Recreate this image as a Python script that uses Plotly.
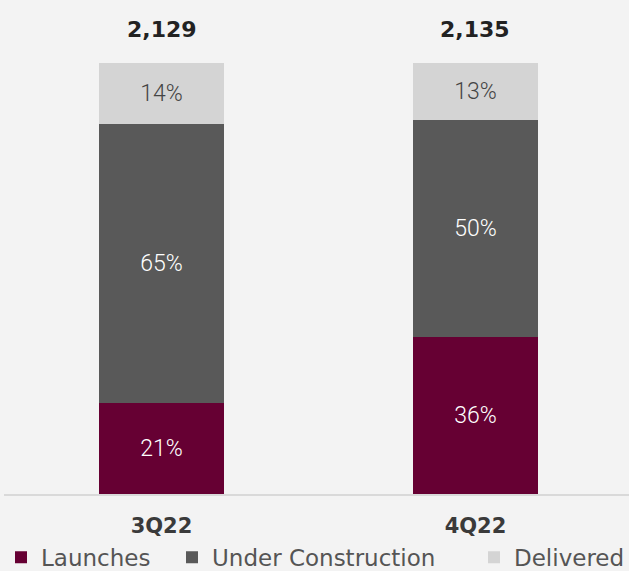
import plotly.graph_objects as go

quarters = ["3Q22", "4Q22"]
totals = ["2,129", "2,135"]
# shares in % (labels show them rounded)
launches = [21.1, 36.4]
under_construction = [64.8, 50.3]
delivered = [14.1, 13.4]

series = [
    ("Launches", launches, "#660033", "white", "legend", -0.0048),
    ("Under Construction", under_construction, "#595959", "white", "legend2", 0.2688),
    ("Delivered", delivered, "#d4d4d4", "#444444", "legend3", 0.752),
]

xpos = list(range(len(quarters)))

fig = go.Figure()
legend_font = {"family": "DejaVu Sans", "size": 23, "color": "#555555"}
legends = {}
for name, vals, color, txtcolor, leg, lx in series:
    fig.add_trace(go.Bar(
        x=xpos, y=vals, name=name,
        width=0.398,
        marker={"color": color, "line": {"width": 0}},
        texttemplate="%{y:.0f}%",
        textposition="inside",
        insidetextanchor="middle",
        textangle=0,
        constraintext="none",
        textfont={"family": "Roboto", "size": 23, "color": txtcolor, "weight": 300},
        hoverinfo="skip",
        legend=leg,
    ))
    legends[leg] = {
        "orientation": "h", "x": lx, "xanchor": "left",
        "y": -0.128, "yanchor": "middle",
        "font": legend_font,
        "itemclick": False, "itemdoubleclick": False,
        "bgcolor": "rgba(0,0,0,0)",
    }

# totals above bars
for x, t in zip(xpos, totals):
    fig.add_annotation(
        x=x, y=107.7, text=f"<b>{t}</b>", showarrow=False,
        font={"family": "DejaVu Sans", "size": 22, "color": "#222222"},
        yanchor="middle",
    )

fig.update_layout(
    barmode="stack",
    width=629, height=571,
    margin={"l": 4, "r": 0, "t": 0, "b": 77, "autoexpand": False},
    paper_bgcolor="#f3f3f3",
    plot_bgcolor="rgba(0,0,0,0)",
    bargap=0,
    showlegend=True,
    **legends,
    xaxis={
        "range": [-0.5016, 1.4889],
        "tickvals": xpos, "ticktext": [f"<b>{q}</b>" for q in quarters],
        "tickfont": {"family": "DejaVu Sans", "size": 21, "color": "#3a3a3a"},
        "showline": True, "linecolor": "#d9d9d9", "linewidth": 2,
        "ticks": "", "showgrid": False, "zeroline": False,
        "ticklabelstandoff": 12,
    },
    yaxis={
        "range": [0, 114.6], "visible": False,
        "showgrid": False, "zeroline": False,
    },
)

fig.write_html(
    "out.html",
    config={"displayModeBar": False},
    post_script="document.body.style.margin='0';document.body.style.overflow='hidden';",
)
